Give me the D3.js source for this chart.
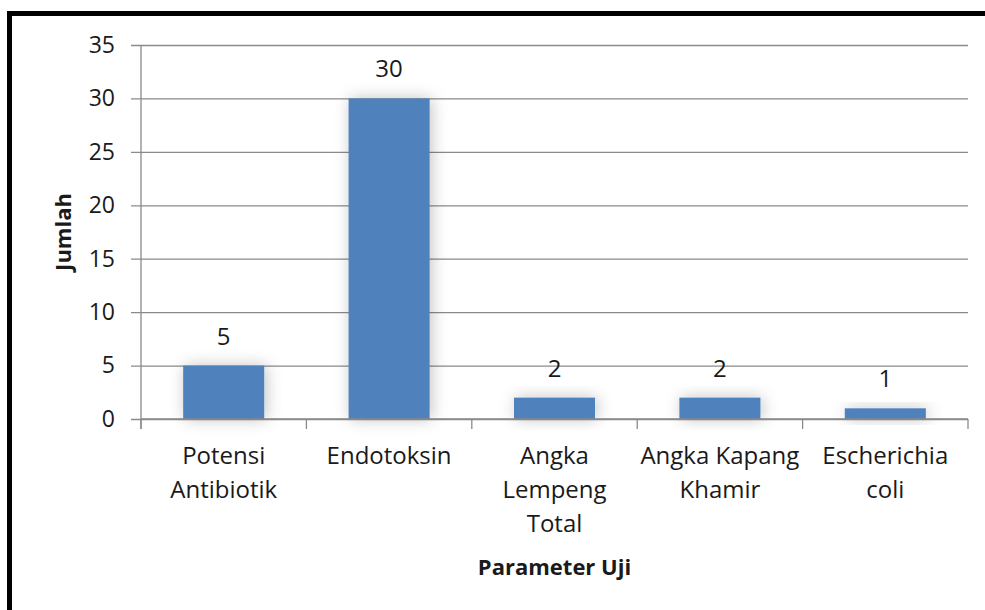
<!DOCTYPE html>
<html>
<head>
<meta charset="utf-8">
<script src="https://cdn.jsdelivr.net/npm/d3@7"></script>
<style>
  body { margin: 0; background: #fff; }
  text { font-family: "Open Sans", "Noto Sans", sans-serif; fill: #1a1a1a; }
</style>
</head>
<body>
<script>
'use strict';

const categories = [
    ["Potensi", "Antibiotik"],
    ["Endotoksin"],
    ["Angka", "Lempeng", "Total"],
    ["Angka Kapang", "Khamir"],
    ["Escherichia", "coli"]
];
const values = [5, 30, 2, 2, 1];
const yTicks = [0, 5, 10, 15, 20, 25, 30, 35];
const yTitle = "Jumlah";
const xTitle = "Parameter Uji";

(function() {
    const W = 985, H = 610;
    const plot = { left: 141, right: 968, top: 45, bottom: 419 };

    const svg = d3.select("body").append("svg")
        .attr("width", W)
        .attr("height", H);

    // soft shadow behind the bars
    const defs = svg.append("defs");
    const f = defs.append("filter").attr("id", "glow")
        .attr("x", "-50%").attr("y", "-50%").attr("width", "200%").attr("height", "200%");
    f.append("feDropShadow")
        .attr("dx", 2).attr("dy", 0)
        .attr("stdDeviation", 8)
        .attr("flood-color", "#000")
        .attr("flood-opacity", 0.24);

    // frame: only top and left visible (cropped screenshot)
    svg.append("rect")
        .attr("x", 9.5).attr("y", 13.5)
        .attr("width", W + 20).attr("height", H + 20)
        .attr("fill", "none")
        .attr("stroke", "#000")
        .attr("stroke-width", 5);

    const x = d3.scaleBand()
        .domain(d3.range(categories.length))
        .range([plot.left, plot.right])
        .padding(0);

    const y = d3.scaleLinear()
        .domain([0, 35])
        .range([plot.bottom, plot.top]);

    // gridlines + y axis
    const yAxis = d3.axisLeft(y)
        .tickValues(yTicks)
        .tickSize(-(plot.right - plot.left))
        .tickPadding(16)
        .tickFormat(d3.format("d"));

    const gy = svg.append("g")
        .attr("transform", "translate(" + plot.left + ",0)")
        .call(yAxis);
    gy.select(".domain").remove();
    gy.selectAll(".tick line")
        .attr("x1", -10)
        .attr("stroke", "#8a8a8a")
        .attr("stroke-width", 1.3);
    gy.selectAll(".tick text")
        .attr("x", -26)
        .attr("font-size", 23)
        .attr("fill", "#1a1a1a");

    // vertical axis line
    svg.append("line")
        .attr("x1", plot.left).attr("x2", plot.left)
        .attr("y1", y(35)).attr("y2", y(0) + 10)
        .attr("stroke", "#8a8a8a")
        .attr("stroke-width", 1.3);

    // bars
    const barW = x.bandwidth() * 0.49;
    svg.append("g").selectAll("rect")
        .data(values)
        .enter()
        .append("rect")
        .attr("x", (d, i) => x(i) + (x.bandwidth() - barW) / 2)
        .attr("y", d => y(d))
        .attr("width", barW)
        .attr("height", d => y(0) - y(d))
        .attr("fill", "#4f81bd")
        .attr("filter", "url(#glow)");

    // value labels
    svg.append("g").selectAll("text")
        .data(values)
        .enter()
        .append("text")
        .attr("x", (d, i) => x(i) + x.bandwidth() / 2)
        .attr("y", d => y(d) - 21)
        .attr("text-anchor", "middle")
        .attr("font-size", 24)
        .text(d => d);

    // x axis
    const xAxisLine = svg.append("g");
    xAxisLine.append("line")
        .attr("x1", plot.left).attr("x2", plot.right)
        .attr("y1", y(0)).attr("y2", y(0))
        .attr("stroke", "#8a8a8a")
        .attr("stroke-width", 1.3);
    xAxisLine.selectAll(".xt")
        .data(d3.range(categories.length + 1))
        .enter()
        .append("line")
        .attr("x1", i => plot.left + i * x.step())
        .attr("x2", i => plot.left + i * x.step())
        .attr("y1", y(0)).attr("y2", y(0) + 10)
        .attr("stroke", "#8a8a8a")
        .attr("stroke-width", 1.3);

    const labels = svg.append("g").selectAll("text")
        .data(categories)
        .enter()
        .append("text")
        .attr("text-anchor", "middle")
        .attr("font-size", 24)
        .attr("y", 464);
    labels.selectAll("tspan")
        .data((d, i) => d.map(s => ({ s: s, i: i })))
        .enter()
        .append("tspan")
        .attr("x", d => x(d.i) + x.bandwidth() / 2)
        .attr("dy", (d, j) => j === 0 ? 0 : 34)
        .text(d => d.s);

    // axis titles
    svg.append("text")
        .attr("x", (plot.left + plot.right) / 2)
        .attr("y", 575)
        .attr("text-anchor", "middle")
        .attr("font-size", 22)
        .attr("font-weight", "bold")
        .text(xTitle);

    svg.append("text")
        .attr("transform", "translate(71," + ((plot.top + plot.bottom) / 2) + ") rotate(-90)")
        .attr("text-anchor", "middle")
        .attr("font-size", 22)
        .attr("font-weight", "bold")
        .text(yTitle);
})();
</script>
</body>
</html>
